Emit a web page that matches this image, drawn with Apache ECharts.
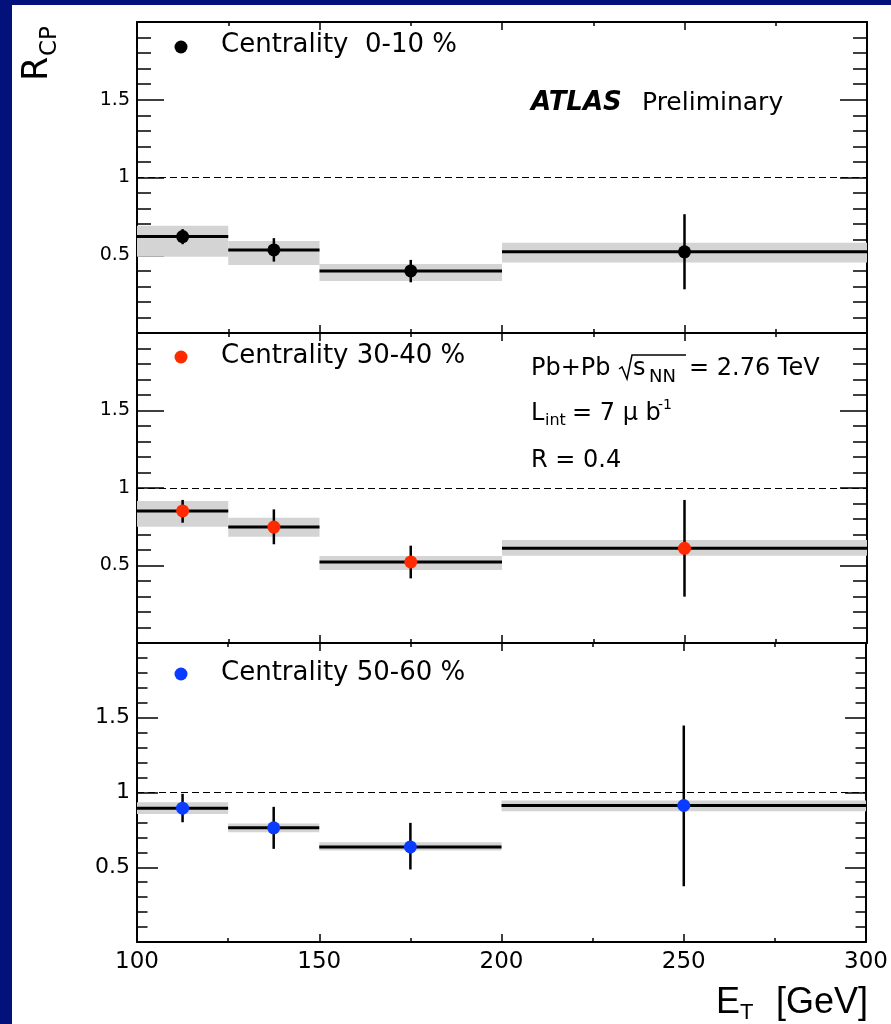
<!DOCTYPE html>
<html>
<head>
<meta charset="utf-8">
<script src="https://cdn.jsdelivr.net/npm/echarts@6/dist/echarts.min.js"></script>
<style>
  html, body { margin: 0; padding: 0; background: #02127a; width: 891px; height: 1024px; overflow: hidden; }
  #paper { position: absolute; left: 12px; top: 5px; width: 879px; height: 1019px; background: #ffffff; }
  #chart { position: absolute; left: 0; top: 0; width: 891px; height: 1024px; }
</style>
</head>
<body>
<div id="paper"></div>
<div id="chart"></div>
<script>
// ---- data ----
const binLow = [100, 125, 150, 200];
const binHigh = [125, 150, 200, 300];
const binCenter = [112.5, 137.5, 175, 250];
const yTickLabels = { 0.5: '0.5', 1: '1', 1.5: '1.5' };

const rcp_0_10 = [0.620, 0.534, 0.399, 0.522];
const statLow_0_10 = [0.571, 0.459, 0.326, 0.281];
const statHigh_0_10 = [0.668, 0.610, 0.470, 0.764];
const sysLow_0_10 = [0.491, 0.438, 0.335, 0.453];
const sysHigh_0_10 = [0.689, 0.592, 0.444, 0.580];

const rcp_30_40 = [0.852, 0.748, 0.523, 0.611];
const statLow_30_40 = [0.776, 0.637, 0.417, 0.299];
const statHigh_30_40 = [0.923, 0.862, 0.628, 0.923];
const sysLow_30_40 = [0.750, 0.686, 0.471, 0.563];
const sysHigh_30_40 = [0.916, 0.808, 0.561, 0.665];

const rcp_50_60 = [0.895, 0.764, 0.636, 0.913];
const statLow_50_60 = [0.801, 0.623, 0.485, 0.373];
const statHigh_50_60 = [0.991, 0.904, 0.797, 1.448];
const sysLow_50_60 = [0.857, 0.734, 0.612, 0.875];
const sysHigh_50_60 = [0.935, 0.792, 0.667, 0.946];

const panelNames = ['Centrality  0-10 %', 'Centrality 30-40 %', 'Centrality 50-60 %'];
const panelColors = ['#000000', '#ff2a00', '#0a3cff'];

// ---- chart ----
const FONT = '"DejaVu Sans", sans-serif';
const panels = [
  { rcp: rcp_0_10, sl: statLow_0_10, sh: statHigh_0_10, yl: sysLow_0_10, yh: sysHigh_0_10 },
  { rcp: rcp_30_40, sl: statLow_30_40, sh: statHigh_30_40, yl: sysLow_30_40, yh: sysHigh_30_40 },
  { rcp: rcp_50_60, sl: statLow_50_60, sh: statHigh_50_60, yl: sysLow_50_60, yh: sysHigh_50_60 }
];
const gridBoxes = [
  { left: 137, top: 22, width: 730, height: 311, major: 27, minor: 14, yFont: 19 },
  { left: 137, top: 333, width: 730, height: 310, major: 27, minor: 14, yFont: 19 },
  { left: 137, top: 643, width: 730, height: 299, major: 21, minor: 10.5, yFont: 22 }
];

const grid = [], xAxis = [], yAxis = [], series = [];
gridBoxes.forEach((g, i) => {
  grid.push({ left: g.left, top: g.top, width: g.width, height: g.height, containLabel: false });
  const baseX = {
    type: 'value', gridIndex: i, min: 100, max: 300, interval: 50,
    axisLine: { show: true, onZero: false, lineStyle: { color: '#000', width: 2 } },
    axisTick: { show: true, inside: true, length: 8, lineStyle: { color: '#000', width: 1.5 } },
    minorTick: { show: true, splitNumber: 2, length: 4, lineStyle: { color: '#000', width: 1.5 } },
    splitLine: { show: false }, minorSplitLine: { show: false }
  };
  xAxis.push(Object.assign({}, baseX, {
    position: 'bottom',
    axisLabel: { show: i === 2, color: '#000', fontSize: 23, fontFamily: FONT, margin: 9 }
  }));
  xAxis.push(Object.assign({}, baseX, { position: 'top', axisLabel: { show: false } }));
  const baseY = {
    type: 'value', gridIndex: i, min: 0, max: 2, interval: 0.5,
    axisLine: { show: true, onZero: false, lineStyle: { color: '#000', width: 2 } },
    axisTick: { show: true, inside: true, length: g.major, lineStyle: { color: '#000', width: 1.5 } },
    minorTick: { show: true, splitNumber: 5, length: g.minor, lineStyle: { color: '#000', width: 1.5 } },
    splitLine: { show: false }, minorSplitLine: { show: false }
  };
  yAxis.push(Object.assign({}, baseY, {
    position: 'left',
    axisLabel: {
      show: true, color: '#000', fontSize: g.yFont, fontFamily: FONT, margin: 7,
      formatter: v => yTickLabels[v] || ''
    }
  }));
  yAxis.push(Object.assign({}, baseY, { position: 'right', axisLabel: { show: false } }));

  const p = panels[i];
  const xi = i * 2, yi = i * 2;
  series.push({
    type: 'custom', xAxisIndex: xi, yAxisIndex: yi, z: 1, silent: true, clip: true,
    data: binLow.map((b, k) => [binLow[k], binHigh[k], p.yl[k], p.yh[k]]),
    encode: { x: [0, 1], y: [2, 3] },
    renderItem: (params, api) => {
      const a = api.coord([api.value(0), api.value(3)]);
      const b = api.coord([api.value(1), api.value(2)]);
      return { type: 'rect', shape: { x: a[0], y: a[1], width: b[0] - a[0], height: b[1] - a[1] },
               style: { fill: '#d4d4d4' } };
    }
  });
  series.push({
    type: 'custom', xAxisIndex: xi, yAxisIndex: yi, z: 3, silent: true, clip: true,
    data: binLow.map((b, k) => [binLow[k], binHigh[k], binCenter[k], p.rcp[k], p.sl[k], p.sh[k]]),
    encode: { x: [0, 1, 2], y: [3, 4, 5] },
    renderItem: (params, api) => {
      const l = api.coord([api.value(0), api.value(3)]);
      const r = api.coord([api.value(1), api.value(3)]);
      const lo = api.coord([api.value(2), api.value(4)]);
      const hi = api.coord([api.value(2), api.value(5)]);
      return { type: 'group', children: [
        { type: 'line', shape: { x1: l[0], y1: l[1], x2: r[0], y2: r[1] }, style: { stroke: '#000', lineWidth: 3 } },
        { type: 'line', shape: { x1: lo[0], y1: lo[1], x2: hi[0], y2: hi[1] }, style: { stroke: '#000', lineWidth: 2.5 } }
      ] };
    }
  });
  series.push({
    type: 'scatter', name: panelNames[i], xAxisIndex: xi, yAxisIndex: yi, z: 5, silent: true,
    symbol: 'circle', symbolSize: 13, itemStyle: { color: panelColors[i], opacity: 1 },
    data: binCenter.map((c, k) => [c, p.rcp[k]]),
    markLine: {
      silent: true, symbol: ['none', 'none'], label: { show: false },
      lineStyle: { color: '#000', width: 1.2, type: [7, 4] },
      data: [{ yAxis: 1 }]
    }
  });
});

function txt(x, y, text, size, extra) {
  return {
    type: 'text', x: x, y: y, z: 100, silent: true,
    style: Object.assign({
      text: text, fill: '#000', fontSize: size, fontFamily: FONT,
      textAlign: 'left', textVerticalAlign: 'middle', align: 'left', verticalAlign: 'middle'
    }, extra || {})
  };
}

const LIB = '"Liberation Sans", sans-serif';
const graphic = [
  // legends
  { type: 'circle', shape: { cx: 181, cy: 47, r: 6.5 }, style: { fill: panelColors[0] }, z: 100, silent: true },
  txt(221, 45, panelNames[0], 26),
  { type: 'circle', shape: { cx: 181, cy: 357, r: 6.5 }, style: { fill: panelColors[1] }, z: 100, silent: true },
  txt(221, 356, panelNames[1], 26),
  { type: 'circle', shape: { cx: 181, cy: 674, r: 6.5 }, style: { fill: panelColors[2] }, z: 100, silent: true },
  txt(221, 673, panelNames[2], 26),
  // ATLAS Preliminary
  txt(531, 103, 'ATLAS', 26, { fontWeight: 'bold', fontStyle: 'italic' }),
  txt(642, 103, 'Preliminary', 25),
  // Pb+Pb sqrt(s_NN) = 2.76 TeV
  txt(531, 369, 'Pb+Pb', 24),
  { type: 'polyline', z: 100, silent: true,
    shape: { points: [[619, 369], [622, 367], [627, 379], [632, 355], [686, 355]] },
    style: { stroke: '#000', lineWidth: 1.5, fill: null } },
  txt(633, 369, 's', 24),
  txt(649, 377, 'NN', 18),
  txt(689, 369, '= 2.76 TeV', 24),
  // L_int = 7 mu b^-1
  txt(531, 414, 'L', 24),
  txt(545, 421, 'int', 16),
  txt(572, 414, '= 7 μ b', 24),
  txt(658, 405, '-1', 14),
  // R = 0.4
  txt(531, 461, 'R = 0.4', 24),
  // y-axis title R_CP (rotated)
  { type: 'group', x: 38, y: 81, rotation: Math.PI / 2, z: 100, silent: true, children: [
    txt(0, 0, 'R', 35),
    txt(25, 12, 'CP', 23)
  ] },
  // x-axis title E_T [GeV]
  txt(716, 1003, 'E', 36, { fontFamily: LIB }),
  txt(740, 1013, 'T', 22, { fontFamily: LIB }),
  txt(776, 1003, '[GeV]', 36, { fontFamily: LIB })
];

const chart = echarts.init(document.getElementById('chart'), null, { renderer: 'canvas', width: 891, height: 1024 });
chart.setOption({
  backgroundColor: 'transparent',
  animation: false,
  grid: grid,
  xAxis: xAxis,
  yAxis: yAxis,
  series: series,
  graphic: graphic
});
</script>
</body>
</html>
